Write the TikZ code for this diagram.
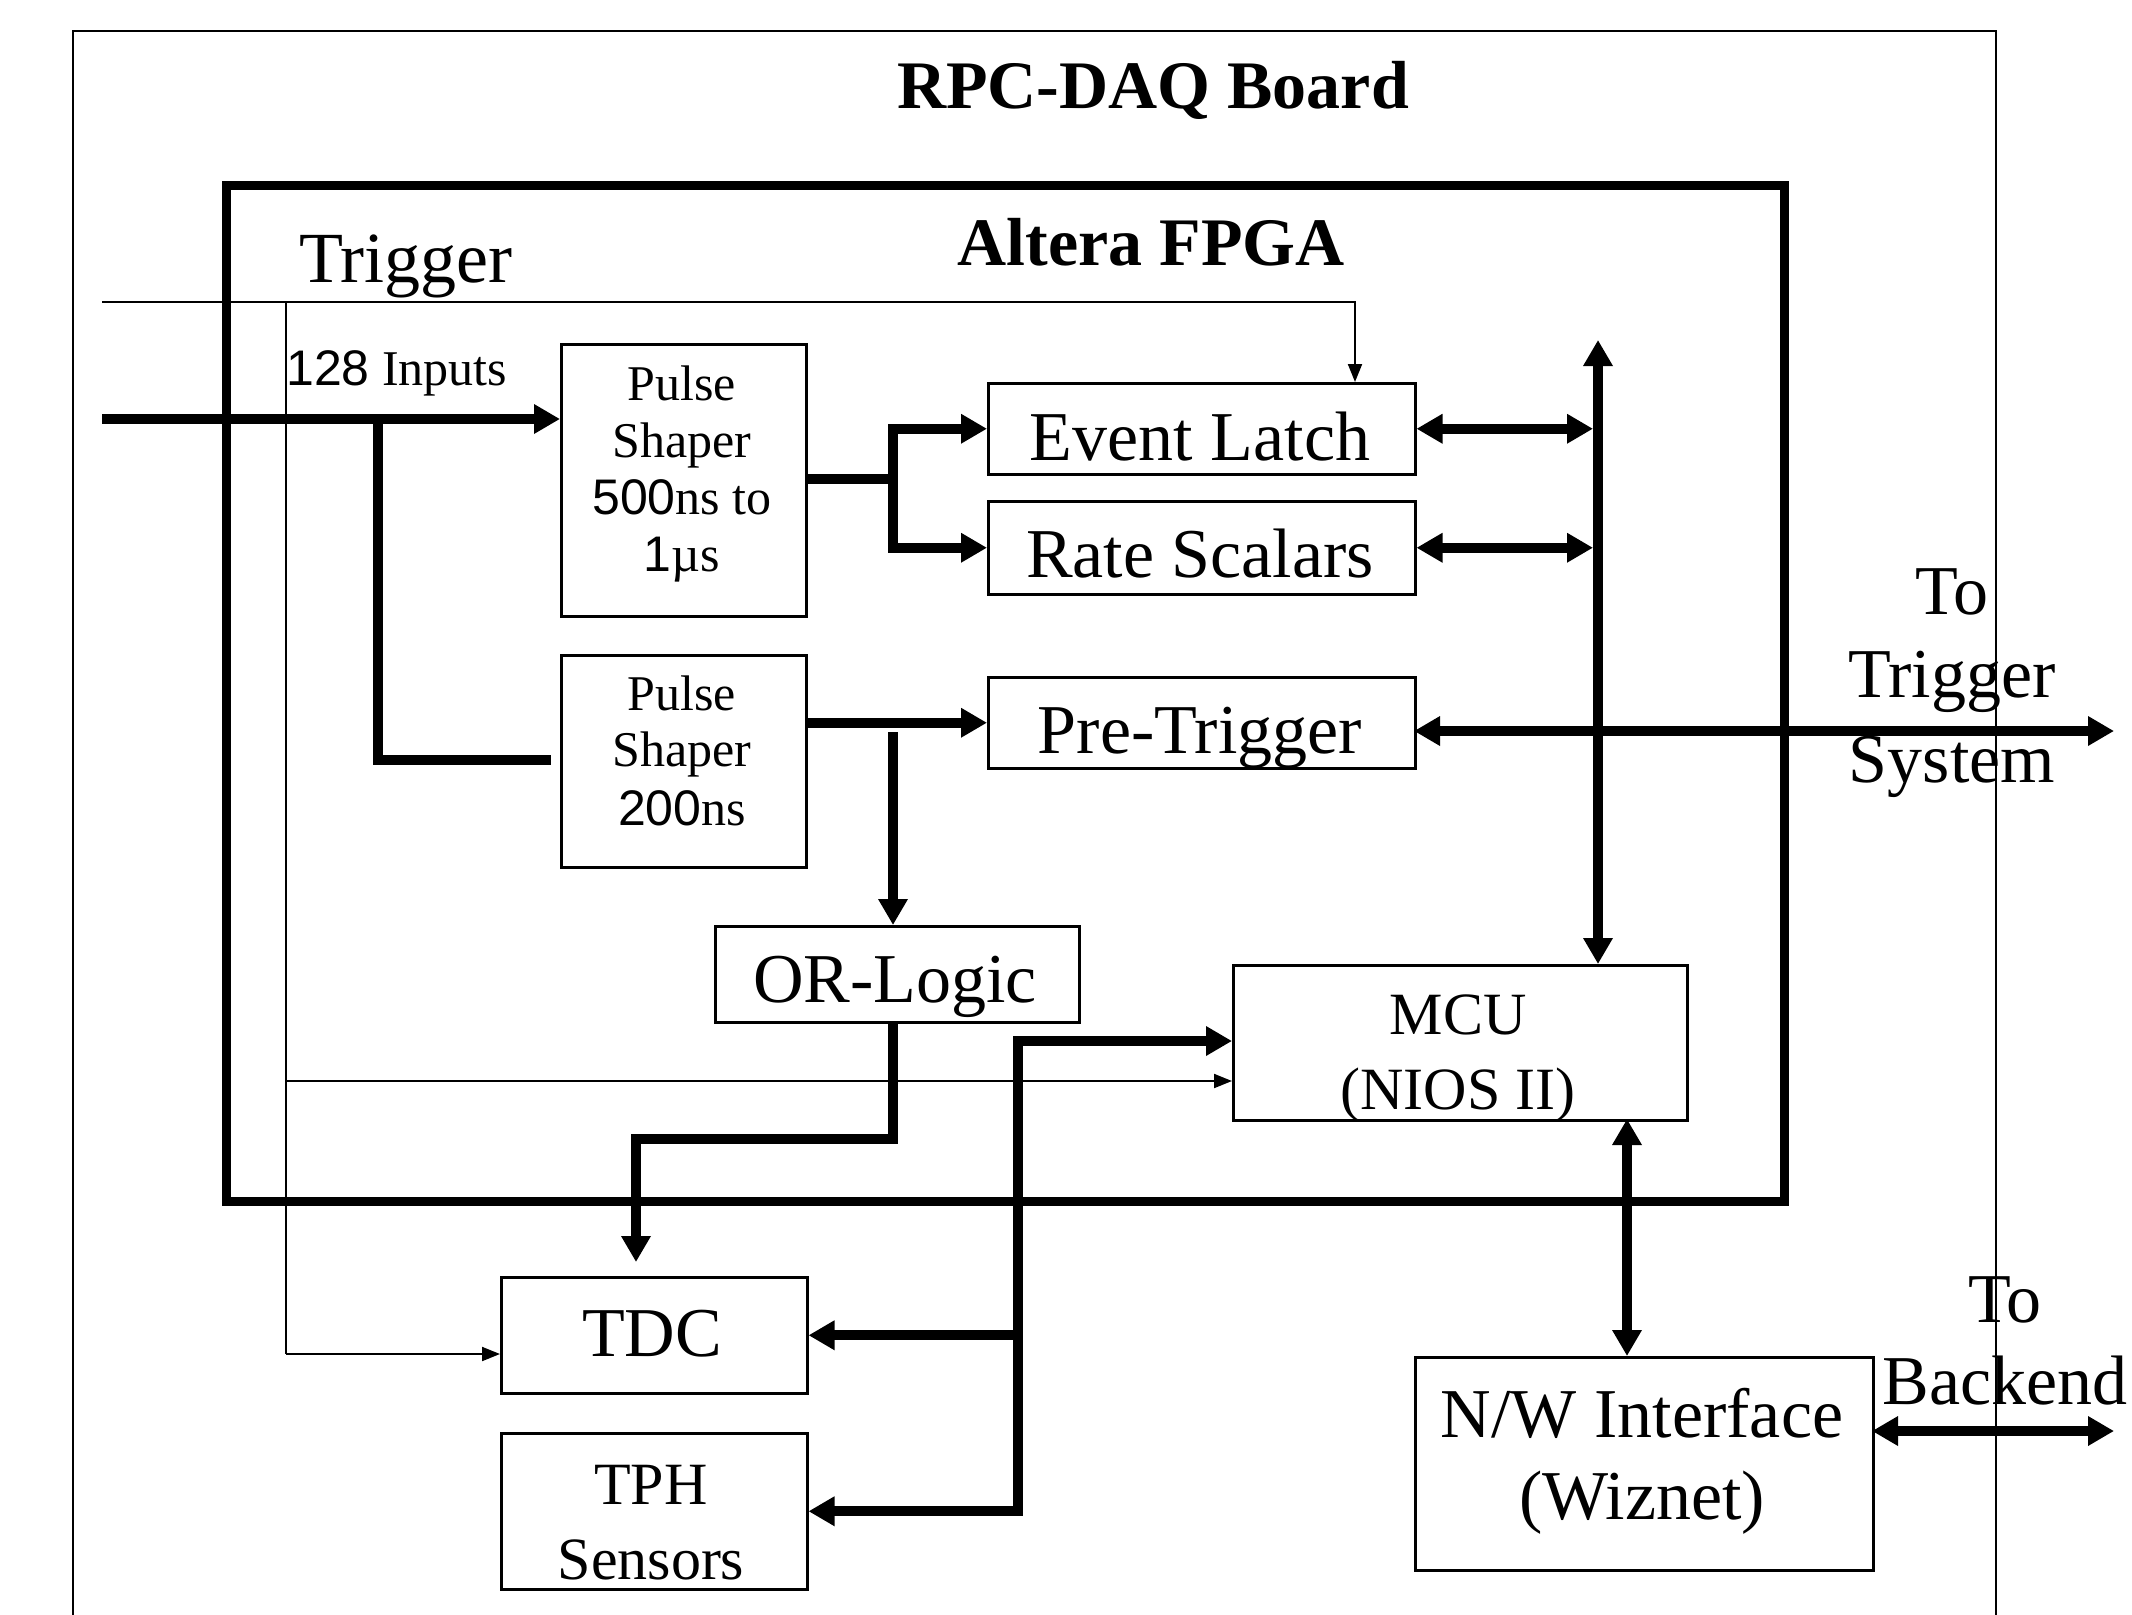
\documentclass[tikz,border=0pt]{standalone}
\usepackage{fontspec}
\setmainfont{Liberation Serif}
\newfontfamily\sansdig{Liberation Sans}
\usetikzlibrary{arrows.meta}
\newcommand\myfs[1]{\fontsize{#1}{#1}\selectfont}
\tikzset{
  blk/.style={draw, line width=2.5pt, inner sep=0pt, anchor=north west},
  thinarr/.style={line width=2pt, -{Triangle[length=18pt,width=14pt]}},
  thinln/.style={line width=2pt},
  thk/.style={line width=10pt, line join=miter},
  thkarr/.style={thk, -{Triangle[length=26pt,width=28pt]}},
  thkdbl/.style={thk, {Triangle[length=26pt,width=28pt]}-{Triangle[length=26pt,width=28pt]}},
  txt/.style={inner sep=0pt, anchor=base},
  big/.style={txt, font=\myfs{70}},
  mid/.style={txt, font=\myfs{60}},
  small/.style={txt, font=\myfs{50}},
  ttl/.style={txt, font=\myfs{68}\bfseries},
}
\begin{document}
\begin{tikzpicture}[x=1pt,y=-1pt]
\useasboundingbox (0,0) rectangle (2132,1614);
\fill[white] (0,0) rectangle (2132,1614);

% frames
\node[draw, line width=2pt, inner sep=0pt, anchor=north west, minimum width=1923pt, minimum height=1700pt] (board) at (72,30) {};
\node[draw, line width=9pt, inner sep=0pt, anchor=north west, minimum width=1558pt, minimum height=1016pt] (fpga) at (222,181) {};
\node[ttl] (boardtitle) at (1153,108) {RPC-DAQ Board};
\node[ttl] (fpgatitle) at (1151,265) {Altera FPGA};

% boxes
\node[blk, minimum width=245pt, minimum height=272pt] (ps1) at (560,343) {};
\node[blk, minimum width=245pt, minimum height=212pt] (ps2) at (560,654) {};
\node[blk, minimum width=427pt, minimum height=91pt] (latch) at (987,382) {};
\node[blk, minimum width=427pt, minimum height=93pt] (rate) at (987,500) {};
\node[blk, minimum width=427pt, minimum height=91pt] (pretrig) at (987,676) {};
\node[blk, minimum width=364pt, minimum height=96pt] (orl) at (714,925) {};
\node[blk, minimum width=454pt, minimum height=155pt] (mcu) at (1232,964) {};
\node[blk, minimum width=306pt, minimum height=116pt] (tdc) at (500,1276) {};
\node[blk, minimum width=306pt, minimum height=156pt] (tph) at (500,1432) {};
\node[blk, minimum width=458pt, minimum height=213pt] (nw) at (1414,1356) {};

% box texts
\node[small] (ps1a) at (682,400) {Pulse};
\node[small] (ps1b) at (682,457) {Shaper};
\node[small] (ps1c) at (682,514) {{\sansdig 500}ns to};
\node[small] (ps1d) at (682,571) {{\sansdig 1}µs};
\node[small] (ps2a) at (682,710) {Pulse};
\node[small] (ps2b) at (682,766) {Shaper};
\node[small] (ps2c) at (682,825) {{\sansdig 200}ns};
\node[big] (latcht) at (1200,460) {Event Latch};
\node[big] (ratet) at (1200,577) {Rate Scalars};
\node[big] (pretrigt) at (1200,753) {Pre-Trigger};
\node[big] (orlt) at (895,1002) {OR-Logic};
\node[mid] (mcua) at (1458,1034) {MCU};
\node[mid] (mcub) at (1458,1109) {(NIOS II)};
\node[big] (tdct) at (652,1356) {TDC};
\node[mid] (tpha) at (651,1504) {TPH};
\node[mid] (tphb) at (651,1579) {Sensors};
\node[big] (nwa) at (1642,1437) {N/W Interface};
\node[big] (nwb) at (1642,1519) {(Wiznet)};

% outside labels
\node[txt, anchor=base west, font=\myfs{72}] (trigt) at (299,282) {Trigger};
\node[txt, anchor=base west, font=\myfs{50}] (inpt) at (286,385) {{\sansdig 128} Inputs};
\node[big] (tto1) at (1952,614) {To};
\node[big] (tto2) at (1952,697) {Trigger};
\node[big] (tto3) at (1952,782) {System};
\node[big] (bto1) at (2005,1322) {To};
\node[big] (bto2) at (2005,1404) {Backend};

% coordinates
\coordinate (trigstart) at (102,302);
\coordinate (trigcorner) at (1355,302);
\coordinate (tv) at (286,302);
\coordinate (tdcin) at (286,1354);
\coordinate (mcuin) at (286,1081);
\coordinate (inp) at (102,419);
\coordinate (br) at (378,419);
\coordinate (ps2in) at (551,760);
\coordinate (spM) at (893,479);
\coordinate (orsplit) at (893,732);
\coordinate (o1) at (893,1139);
\coordinate (tdcarr) at (636,1262);
\coordinate (bt) at (1018,1041);
\coordinate (bustop) at (1598,340);
\coordinate (ptl) at (1414,731);
\coordinate (trigout) at (2114,731);
\coordinate (mnx) at (1627,1119);
\coordinate (nwo) at (1872,1431);
\coordinate (backout) at (2114,1431);

% thin trigger lines
\draw[thinarr] (trigstart) -- (trigcorner) -- (trigcorner |- latch.north);
\draw[thinln] (tv) -- (tdcin);
\draw[thinarr] (tdcin) -- (tdcin -| tdc.west);
\draw[thinarr] (mcuin) -- (mcuin -| mcu.west);

% inputs
\draw[thkarr] (inp) -- (inp -| ps1.west);
\draw[thk] (br) |- (ps2in);

% pulse shaper 1 split
\draw[thk] (ps1.east |- spM) -- (spM);
\draw[thkarr] (spM) |- (latch.west);
\draw[thkarr] (spM) |- (rate.west);

% pulse shaper 2
\draw[thkarr] (ps2.east |- pretrig.west) -- (pretrig.west);
\draw[thkarr] (orsplit) -- (orsplit |- orl.north);

% OR to TDC
\draw[thkarr] (orl.south -| o1) -- (o1) -| (tdcarr);

% MCU bus to TDC / TPH
\draw[thkdbl] (tph.east) -| (bt) -- (bt -| mcu.west);
\draw[thkarr] (tdc.east -| bt) -- (tdc.east);

% vertical bus
\draw[thkdbl] (bustop) -- (bustop |- mcu.north);
\draw[thkdbl, shorten >=5pt] (latch.east) -- (latch.east -| bustop);
\draw[thkdbl, shorten >=5pt] (rate.east) -- (rate.east -| bustop);
\draw[thkdbl] (ptl) -- (trigout);

% MCU to network
\draw[thkdbl] (mnx) -- (mnx |- nw.north);
\draw[thkdbl] (nwo) -- (backout);
\end{tikzpicture}
\end{document}
